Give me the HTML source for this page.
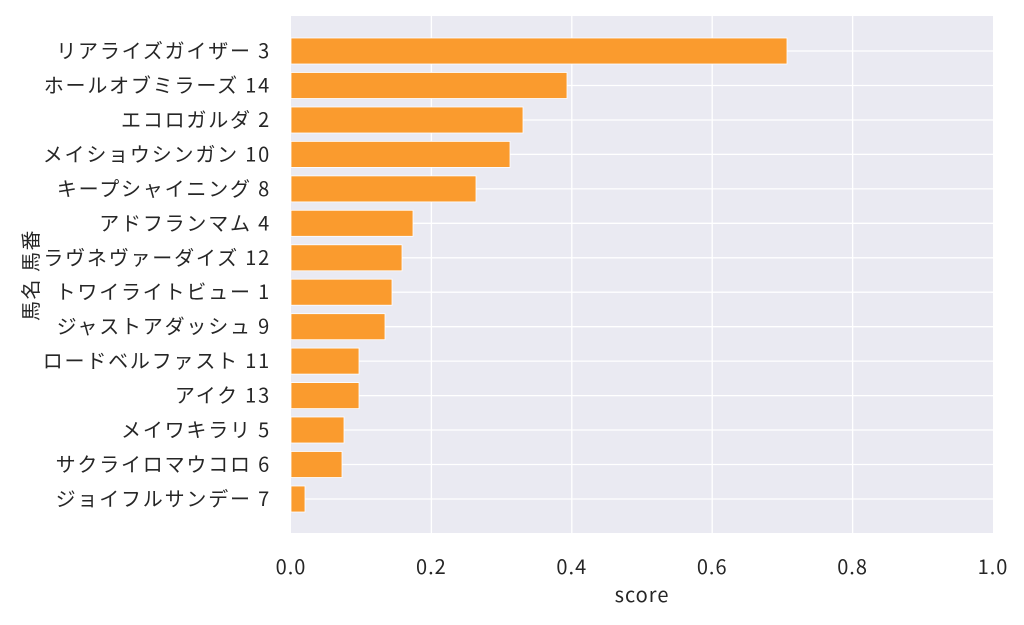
<!DOCTYPE html>
<html><head><meta charset="utf-8"><style>
body{margin:0;background:#fff;}
svg text{font-family:"Noto Sans CJK JP","Liberation Sans",sans-serif;fill:#262626;}
</style></head><body>
<svg width="1024" height="620" xmlns="http://www.w3.org/2000/svg">
<rect x="291" y="16" width="702" height="517" fill="#eaeaf2"/>
<g stroke="#fff" stroke-width="1.3">
<line x1="431.4" y1="16" x2="431.4" y2="533"/>
<line x1="571.8" y1="16" x2="571.8" y2="533"/>
<line x1="712.2" y1="16" x2="712.2" y2="533"/>
<line x1="852.6" y1="16" x2="852.6" y2="533"/>
<line x1="291" y1="51" x2="993" y2="51"/>
<line x1="291" y1="85.5" x2="993" y2="85.5"/>
<line x1="291" y1="120" x2="993" y2="120"/>
<line x1="291" y1="154.4" x2="993" y2="154.4"/>
<line x1="291" y1="188.9" x2="993" y2="188.9"/>
<line x1="291" y1="223.3" x2="993" y2="223.3"/>
<line x1="291" y1="257.8" x2="993" y2="257.8"/>
<line x1="291" y1="292.2" x2="993" y2="292.2"/>
<line x1="291" y1="326.7" x2="993" y2="326.7"/>
<line x1="291" y1="361.1" x2="993" y2="361.1"/>
<line x1="291" y1="395.6" x2="993" y2="395.6"/>
<line x1="291" y1="430" x2="993" y2="430"/>
<line x1="291" y1="464.5" x2="993" y2="464.5"/>
<line x1="291" y1="499" x2="993" y2="499"/>
</g>
<g fill="#fa9b2e" stroke="#fff" stroke-width="0.8">
<rect x="291" y="38" width="496" height="26"/>
<rect x="291" y="72.5" width="276" height="26"/>
<rect x="291" y="107" width="232" height="26"/>
<rect x="291" y="141.4" width="219" height="26"/>
<rect x="291" y="175.9" width="185" height="26"/>
<rect x="291" y="210.3" width="122" height="26"/>
<rect x="291" y="244.8" width="111" height="26"/>
<rect x="291" y="279.2" width="101" height="26"/>
<rect x="291" y="313.7" width="94" height="26"/>
<rect x="291" y="348.1" width="68" height="26"/>
<rect x="291" y="382.6" width="68" height="26"/>
<rect x="291" y="417" width="53" height="26"/>
<rect x="291" y="451.5" width="51" height="26"/>
<rect x="291" y="486" width="14" height="26"/>
</g>
<g font-size="20" text-anchor="end" letter-spacing="1.8">
<text x="271" y="58">リアライズガイザー 3</text>
<text x="271" y="92.5">ホールオブミラーズ 14</text>
<text x="271" y="127">エコロガルダ 2</text>
<text x="271" y="161.4">メイショウシンガン 10</text>
<text x="271" y="195.9">キープシャイニング 8</text>
<text x="271" y="230.3">アドフランマム 4</text>
<text x="271" y="264.8">ラヴネヴァーダイズ 12</text>
<text x="271" y="299.2">トワイライトビュー 1</text>
<text x="271" y="333.7">ジャストアダッシュ 9</text>
<text x="271" y="368.1">ロードベルファスト 11</text>
<text x="271" y="402.6">アイク 13</text>
<text x="271" y="437">メイワキラリ 5</text>
<text x="271" y="471.5">サクライロマウコロ 6</text>
<text x="271" y="506">ジョイフルサンデー 7</text>
</g>
<g font-size="20" text-anchor="middle">
<text x="291" y="574" letter-spacing="1">0.0</text>
<text x="431.4" y="574" letter-spacing="1">0.2</text>
<text x="571.8" y="574" letter-spacing="1">0.4</text>
<text x="712.2" y="574" letter-spacing="1">0.6</text>
<text x="852.6" y="574" letter-spacing="1">0.8</text>
<text x="993" y="574" letter-spacing="1">1.0</text>
<text x="642" y="602" letter-spacing="1">score</text>
<text transform="translate(38,275) rotate(-90)" letter-spacing="1.5">馬名 馬番</text>
</g>
</svg>
</body></html>
